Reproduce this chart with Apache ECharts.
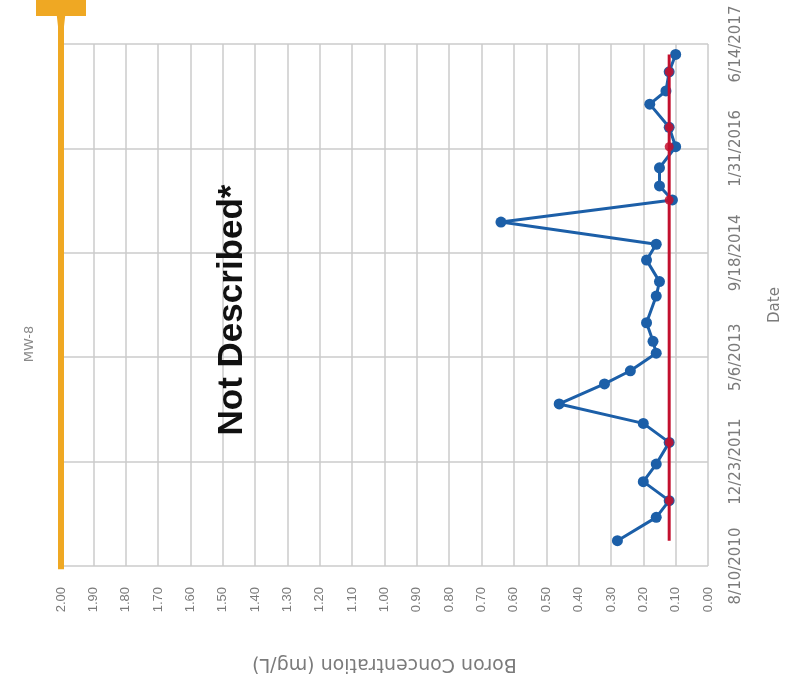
<!DOCTYPE html>
<html>
<head>
<meta charset="utf-8">
<script src="https://cdn.jsdelivr.net/npm/echarts@6/dist/echarts.min.js"></script>
<style>
html,body{margin:0;padding:0;background:#fff;}
#chart{width:791px;height:688px;}
</style>
</head>
<body>
<div id="chart"></div>
<script>
// ---- data ----
const chartTitle = 'MW-8';
const annotationText = 'Not Described*';
const startDate = '2010-08-10';
const dateTickLabels = ['8/10/2010', '12/23/2011', '5/6/2013', '9/18/2014', '1/31/2016', '6/14/2017'];
const sampleDates = [
  '2010-12-09', '2011-03-31', '2011-06-19', '2011-09-18', '2011-12-11',
  '2012-03-24', '2012-06-23', '2012-09-24', '2012-12-29', '2013-03-02',
  '2013-05-25', '2013-07-21', '2013-10-18', '2014-02-23', '2014-05-03',
  '2014-08-14', '2014-10-29', '2015-02-12', '2015-05-29', '2015-08-04',
  '2015-10-30', '2016-02-08', '2016-05-11', '2016-08-30', '2016-11-01',
  '2017-02-01', '2017-04-25'
];
const boronValues = [
  0.28, 0.16, 0.12, 0.20, 0.16,
  0.12, 0.20, 0.46, 0.32, 0.24,
  0.16, 0.17, 0.19, 0.16, 0.15,
  0.19, 0.16, 0.64, 0.11, 0.15,
  0.15, 0.10, 0.12, 0.18, 0.13,
  0.12, 0.10
];
const limitValues = [
  0.12, 0.12, 0.12, 0.12, 0.12,
  0.12, 0.12, 0.12, 0.12, 0.12,
  0.12, 0.12, 0.12, 0.12, 0.12,
  0.12, 0.12, 0.12, 0.12, 0.12,
  0.12, 0.12, 0.12, 0.12, 0.12,
  0.12, 0.12
];
const nonDetect = [
  0, 0, 1, 0, 0,
  1, 0, 0, 0, 0,
  0, 0, 0, 0, 0,
  0, 0, 0, 1, 0,
  0, 1, 1, 0, 0,
  1, 0
];
const standardValue = 2.0;
const standardDates = ['2010-07-25', '2018-01-11'];

// ---- helpers ----
const DAY = 86400000;
const t0 = Date.parse(startDate + 'T00:00:00Z');
const toDays = s => (Date.parse(s + 'T00:00:00Z') - t0) / DAY;

const boronData = sampleDates.map((d, i) => [boronValues[i], toDays(d)]);
const limitData = sampleDates.map((d, i) => [limitValues[i], toDays(d)]);
const standardData = standardDates.map((d, i) => ({
  value: [standardValue, toDays(d)],
  symbol: i === standardDates.length - 1 ? 'path://M0,0 L48,0 L48,15 L28,15 L26.5,28 L21.5,28 L20,15 L0,15 Z' : 'none',
  symbolSize: [50, 30],
  symbolOffset: [0, 15]
}));

const grey = '#7b7b7b';
const chart = echarts.init(document.getElementById('chart'), null, {renderer: 'canvas'});
chart.setOption({
  animation: false,
  backgroundColor: '#ffffff',
  grid: {left: 61, right: 75, top: 44, bottom: 122, containLabel: false},
  xAxis: {
    type: 'value',
    min: 0, max: 2, interval: 0.1,
    inverse: true,
    position: 'bottom',
    axisLine: {show: false},
    axisTick: {show: false},
    splitLine: {show: true, lineStyle: {color: '#cbcbcb', width: 1.5}},
    axisLabel: {
      rotate: 90, margin: 21, fontSize: 13, color: grey,
      fontFamily: 'Liberation Sans, Arial, sans-serif',
      showMinLabel: true, showMaxLabel: true,
      formatter: v => v.toFixed(2)
    },
    name: 'Boron Concentration (mg/L)',
    nameLocation: 'middle',
    nameRotate: 180,
    nameGap: 88,
    nameTextStyle: {fontSize: 19, color: grey, fontFamily: 'DejaVu Sans, sans-serif'}
  },
  yAxis: {
    type: 'value',
    position: 'right',
    min: 0, max: 2500, interval: 500,
    axisLine: {show: false},
    axisTick: {show: false},
    splitLine: {show: true, lineStyle: {color: '#cbcbcb', width: 1.5}},
    axisLabel: {
      rotate: 90, margin: 21, fontSize: 15, color: grey,
      fontFamily: 'DejaVu Sans, sans-serif',
      showMinLabel: true, showMaxLabel: true,
      formatter: v => dateTickLabels[Math.round(v / 500)] || ''
    },
    name: 'Date',
    nameLocation: 'middle',
    nameGap: 60,
    nameTextStyle: {fontSize: 15, color: grey, fontFamily: 'DejaVu Sans, sans-serif'}
  },
  graphic: [
    {
      type: 'text', x: 30, y: 344, rotation: Math.PI / 2,
      style: {text: chartTitle, fill: '#8a8a8a', font: '13px "DejaVu Sans", sans-serif', align: 'center', verticalAlign: 'middle'}
    },
    {
      type: 'text', x: 232, y: 310, rotation: Math.PI / 2, z: 100,
      style: {text: annotationText, fill: '#111111', font: 'bold 35px "Liberation Sans", Arial, sans-serif', align: 'center', verticalAlign: 'middle'}
    }
  ],
  series: [
    {
      name: 'Boron',
      type: 'line',
      data: boronData,
      z: 3,
      symbol: 'circle',
      symbolSize: 11,
      lineStyle: {color: '#1c5fa8', width: 3},
      itemStyle: {color: '#1c5fa8'}
    },
    {
      name: 'Limit',
      type: 'line',
      data: limitData,
      z: 4,
      symbol: 'circle',
      symbolSize: (v, p) => nonDetect[p.dataIndex] ? 9 : 0,
      showAllSymbol: true,
      lineStyle: {color: '#c3102e', width: 3},
      itemStyle: {color: '#c3102e', opacity: 0.85}
    },
    {
      name: 'Standard',
      type: 'line',
      data: standardData,
      clip: false,
      z: 5,
      lineStyle: {color: '#efa823', width: 6},
      itemStyle: {color: '#efa823'}
    }
  ]
});
</script>
</body>
</html>
